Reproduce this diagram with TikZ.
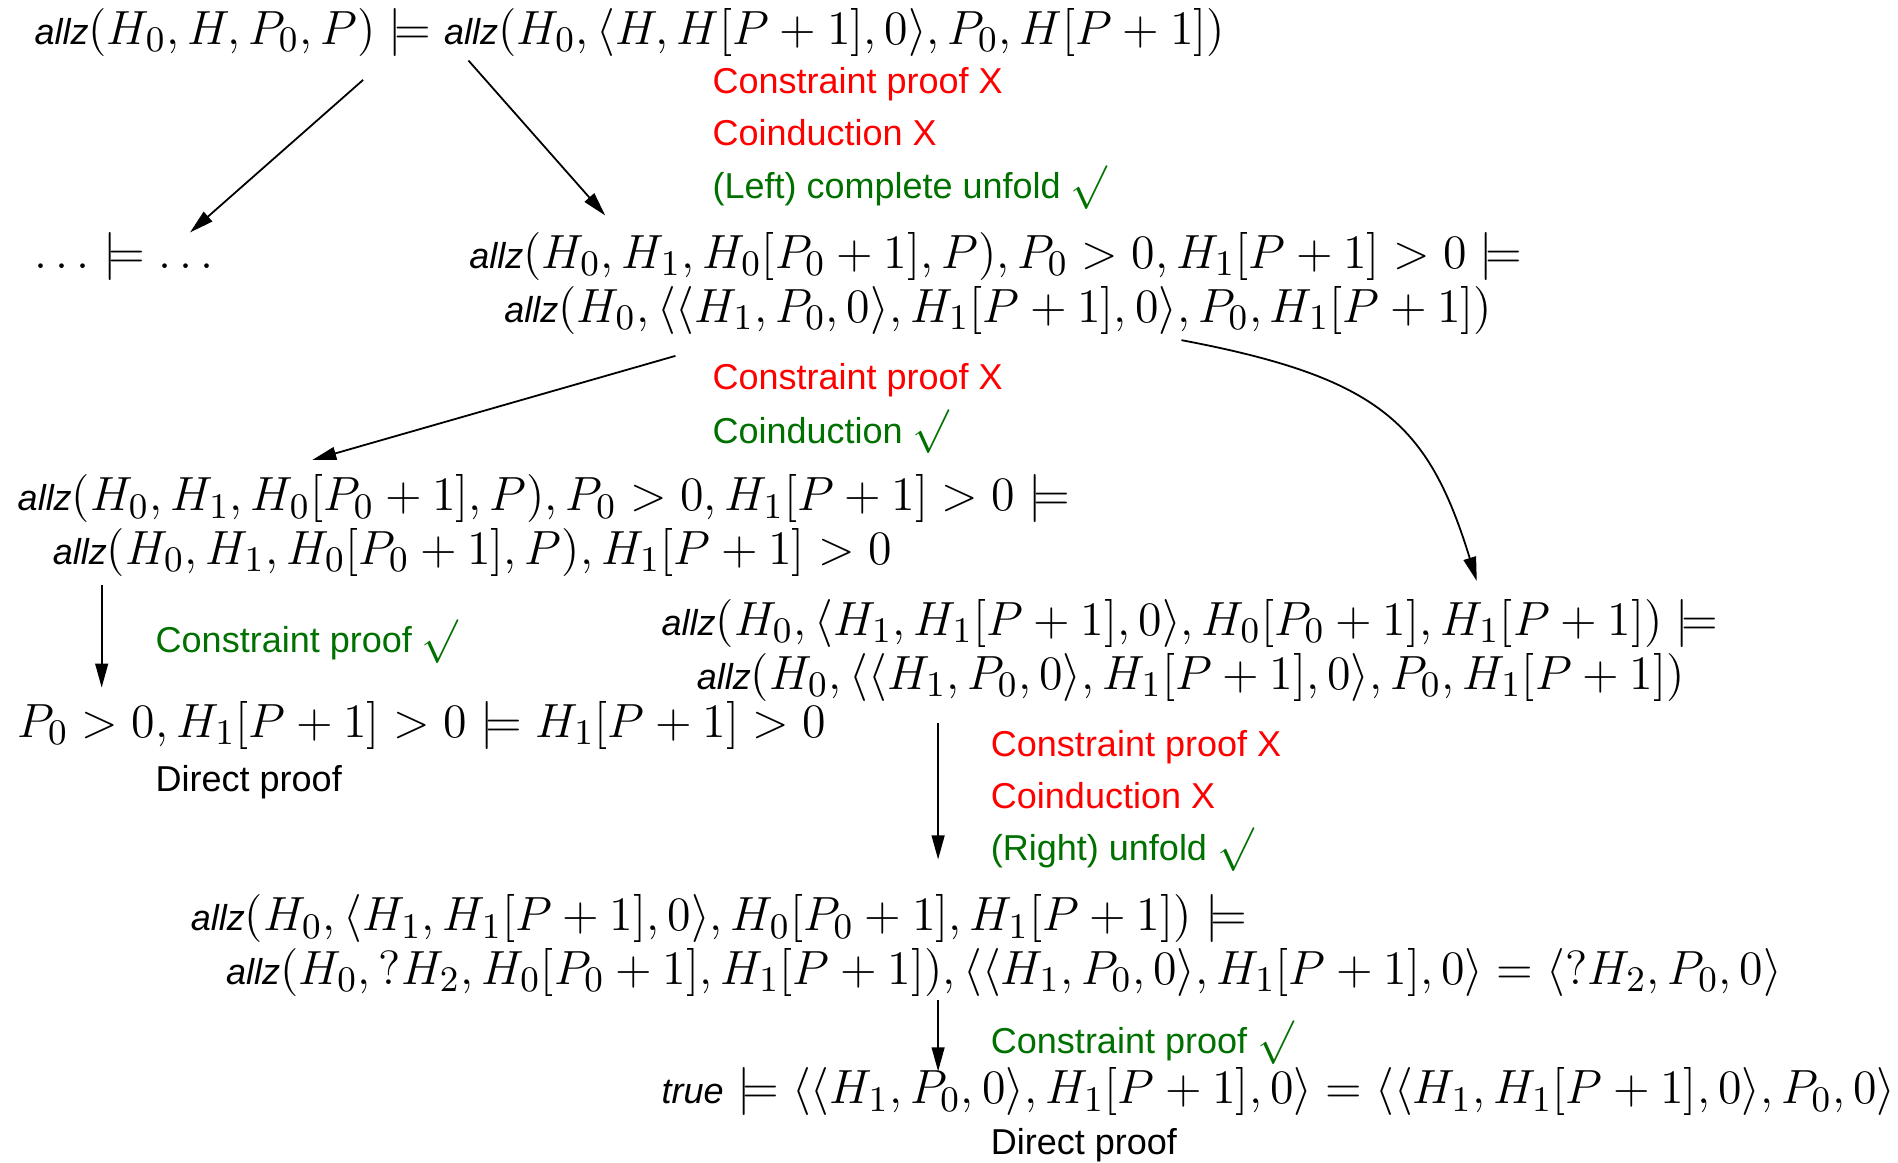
\documentclass[tikz,border=0pt]{standalone}
\usepackage{fontspec}
\setsansfont{Liberation Sans}
\usetikzlibrary{arrows.meta}
\definecolor{okgreen}{RGB}{0,112,0}
\definecolor{badred}{RGB}{255,0,0}
\newcommand{\allz}{\mbox{\fontsize{9}{10}\selectfont\sffamily\itshape allz}}
\newcommand{\tru}{\mbox{\fontsize{9}{10}\selectfont\sffamily\itshape true}}
\newcommand{\ok}{{\fontsize{11}{12}\selectfont$\surd$}}
\newcommand{\ind}{\hspace*{8.8pt}}
\begin{document}
\begin{tikzpicture}[x=0.3026pt,y=-0.3026pt,
  seq/.style={anchor=base west, inner sep=0pt, font=\fontsize{12.2}{13.4}\selectfont},
  lbl/.style={anchor=base west, inner sep=0pt, font=\fontsize{9}{10}\selectfont\sffamily},
  bad/.style={lbl, text=badred},
  good/.style={lbl, text=okgreen},
  conn/.style={-{Triangle[length=6pt,width=3.2pt]}, line width=0.45pt}]
\useasboundingbox (0,0) rectangle (1568,960);
% sequents
\node[seq] (n0) at (28,37) {$\allz(H_0,H,P_0,P)\models\allz(H_0,\langle H,H[P+1],0\rangle,P_0,H[P+1])$};
\node[seq] (nd) at (28,222) {$\ldots\models\ldots$};
\node[seq] (n1) at (387,222) {\begin{tabular}[t]{@{}l@{}}$\allz(H_0,H_1,H_0[P_0+1],P),P_0>0,H_1[P+1]>0\models$\\
  \ind$\allz(H_0,\langle\langle H_1,P_0,0\rangle,H_1[P+1],0\rangle,P_0,H_1[P+1])$\end{tabular}};
\node[seq] (n2) at (14,422) {\begin{tabular}[t]{@{}l@{}}$\allz(H_0,H_1,H_0[P_0+1],P),P_0>0,H_1[P+1]>0\models$\\
  \ind$\allz(H_0,H_1,H_0[P_0+1],P),H_1[P+1]>0$\end{tabular}};
\node[seq] (n3) at (546,525) {\begin{tabular}[t]{@{}l@{}}$\allz(H_0,\langle H_1,H_1[P+1],0\rangle,H_0[P_0+1],H_1[P+1])\models$\\
  \ind$\allz(H_0,\langle\langle H_1,P_0,0\rangle,H_1[P+1],0\rangle,P_0,H_1[P+1])$\end{tabular}};
\node[seq] (n4) at (14,609) {$P_0>0,H_1[P+1]>0\models H_1[P+1]>0$};
\node[seq] (n5) at (157,769) {\begin{tabular}[t]{@{}l@{}}$\allz(H_0,\langle H_1,H_1[P+1],0\rangle,H_0[P_0+1],H_1[P+1])\models$\\
  \ind$\allz(H_0,?H_2,H_0[P_0+1],H_1[P+1]),\langle\langle H_1,P_0,0\rangle,H_1[P+1],0\rangle=\langle ?H_2,P_0,0\rangle$\end{tabular}};
\node[seq] (n6) at (546,912) {$\tru\models\langle\langle H_1,P_0,0\rangle,H_1[P+1],0\rangle=\langle\langle H_1,H_1[P+1],0\rangle,P_0,0\rangle$};
% labels
\node[bad] (l1) at (588,77) {Constraint proof X};
\node[bad] (l2) at (588,120) {Coinduction X};
\node[good] (l3) at (588,164) {(Left) complete unfold \ok};
\node[bad] (l4) at (588,322) {Constraint proof X};
\node[good] (l5) at (588,366) {Coinduction \ok};
\node[good] (l6) at (128,539) {Constraint proof \ok};
\node[lbl] (l7) at (128,654) {Direct proof};
\node[bad] (l8) at (818,625) {Constraint proof X};
\node[bad] (l9) at (818,668) {Coinduction X};
\node[good] (l10) at (818,711) {(Right) unfold \ok};
\node[good] (l11) at (818,870) {Constraint proof \ok};
\node[lbl] (l12) at (818,954) {Direct proof};
% connector ends
\coordinate (a1s) at (300,66);  \coordinate (a1e) at (157,192);
\coordinate (a2s) at (387,50);  \coordinate (a2e) at (500,178);
\coordinate (a3s) at (558,294); \coordinate (a3e) at (258,380);
\coordinate (a4s) at (976,281); \coordinate (a4e) at (1220,480);
\coordinate (a5s) at (84,483);  \coordinate (a5e) at (84,568);
\coordinate (a6s) at (775,597); \coordinate (a6e) at (775,710);
\coordinate (a7s) at (775,826); \coordinate (a7e) at (775,885);
\draw[conn] (a1s) -- (a1e);
\draw[conn] (a2s) -- (a2e);
\draw[conn] (a3s) -- (a3e);
\draw[conn] (a4s) .. controls (1140,312) and (1180,350) .. (a4e);
\draw[conn] (a5s) -- (a5e);
\draw[conn] (a6s) -- (a6e);
\draw[conn] (a7s) -- (a7e);
\end{tikzpicture}
\end{document}
